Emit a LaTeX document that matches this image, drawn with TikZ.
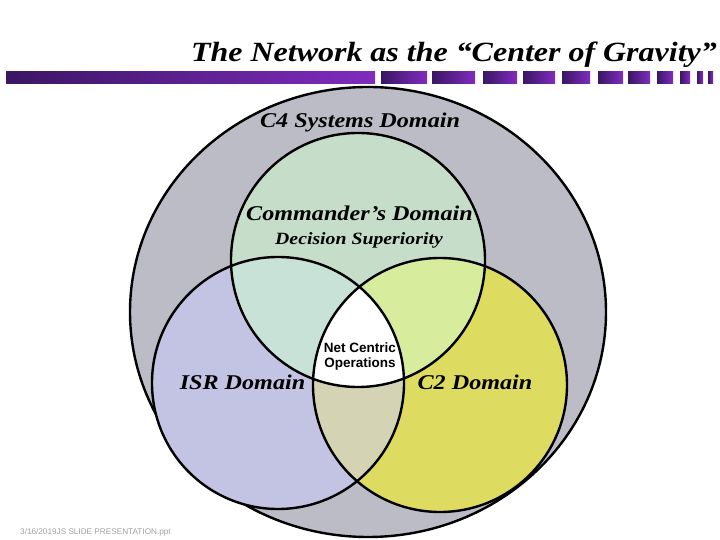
\documentclass[tikz,border=0pt]{standalone}
\usepackage{fontspec}
\setmainfont{Liberation Serif}
\newfontfamily\wideserif[FakeStretch=1.15]{Liberation Serif}
\newfontfamily\arialfont{Liberation Sans}
\usetikzlibrary{positioning}

\definecolor{c4grey}{RGB}{187,188,198}
\definecolor{cmdgreen}{RGB}{197,221,201}
\definecolor{isrblue}{RGB}{195,195,227}
\definecolor{ctwoyellow}{RGB}{221,219,96}
\definecolor{cmdisr}{RGB}{200,226,216}
\definecolor{cmdctwo}{RGB}{216,236,158}
\definecolor{isrctwo}{RGB}{212,212,180}
\definecolor{barDark}{RGB}{58,22,100}
\definecolor{barLight}{RGB}{128,44,190}
\definecolor{footgrey}{RGB}{160,160,160}

\begin{document}
\begin{tikzpicture}[
  x=1pt, y=1pt,
  ring/.style={draw=black, line width=2.4pt},
  barpiece/.style={left color=barDark, right color=barLight},
  domainlabel/.style={font=\wideserif\bfseries\itshape\fontsize{21}{24}\selectfont, inner sep=0pt, anchor=base},
  sublabel/.style={font=\wideserif\bfseries\itshape\fontsize{17.2}{19}\selectfont, inner sep=0pt, anchor=base},
  netlabel/.style={font=\arialfont\bfseries\fontsize{13.5}{15}\selectfont, inner sep=0pt, align=center},
  titlelabel/.style={font=\wideserif\bfseries\itshape\fontsize{27.8}{30}\selectfont, inner sep=0pt, anchor=base east},
  footlabel/.style={font=\arialfont\fontsize{8.2}{9}\selectfont, text=footgrey, inner sep=0pt, anchor=base west}
]
\useasboundingbox (0,0) rectangle (720,540);
\begin{scope}
\clip (0,0) rectangle (720,540);

% Centres of the domains
\coordinate (c4) at (368,228);
\coordinate (cmd) at (358,280);
\coordinate (isr) at (278,157);
\coordinate (ctwo) at (440,155);

% Outer C4 domain
\filldraw[ring, fill=c4grey] (c4) ellipse [x radius=238, y radius=225];

% The three domains
\fill[cmdgreen] (cmd) circle (127);
\fill[isrblue] (isr) circle (126);
\fill[ctwoyellow] (ctwo) circle (127);

% Overlaps
\begin{scope}
  \clip (cmd) circle (127);
  \fill[cmdisr] (isr) circle (126);
\end{scope}
\begin{scope}
  \clip (cmd) circle (127);
  \fill[cmdctwo] (ctwo) circle (127);
\end{scope}
\begin{scope}
  \clip (isr) circle (126);
  \fill[isrctwo] (ctwo) circle (127);
\end{scope}
\begin{scope}
  \clip (cmd) circle (127);
  \clip (isr) circle (126);
  \fill[white] (ctwo) circle (127);
\end{scope}

% Outlines
\draw[ring] (cmd) circle (127);
\draw[ring] (isr) circle (126);
\draw[ring] (ctwo) circle (127);

% Labels
\node[domainlabel] (c4label) at (360,412) {C4 Systems Domain};
\node[domainlabel] (cmdlabel) at (359.5,319) {Commander’s Domain};
\node[sublabel] (decision) at (359,295) {Decision Superiority};
\node[domainlabel] (isrlabel) at (242.5,150) {ISR Domain};
\node[domainlabel] (ctwolabel) at (475,150) {C2 Domain};
\node[netlabel] (net) at (360,183) {Net Centric\\Operations};

% Title and bar
\node[titlelabel] (title) at (717,478) {The Network as the “Center of Gravity”};
\shade[barpiece] (6,456) rectangle (375,468);
\foreach \xa/\xb in {381/427, 432/475, 483/517, 523/555, 562/590, 598/623,
                     628/650, 657/673, 680/690, 697/703, 708/713}
  \shade[barpiece] (\xa,456) rectangle (\xb,468);

% Footer
\node[footlabel] (footer) at (20,5) {3/16/2019JS SLIDE PRESENTATION.ppt};
\end{scope}
\end{tikzpicture}
\end{document}
